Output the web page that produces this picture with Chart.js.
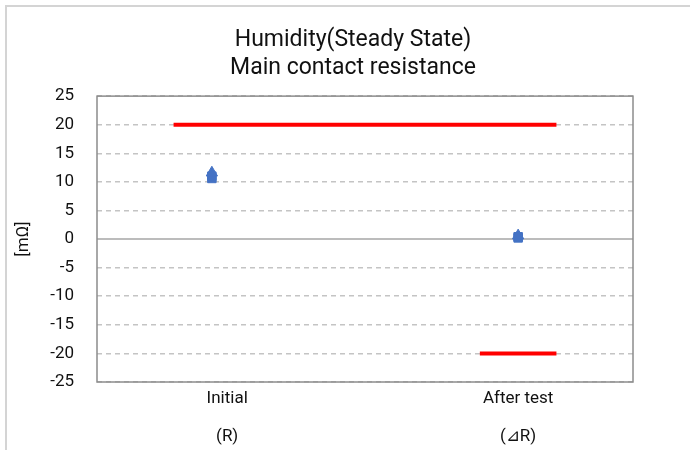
<!DOCTYPE html>
<html>
<head>
<meta charset="utf-8">
<script src="https://cdn.jsdelivr.net/npm/chart.js@4"></script>
<style>
  html, body { margin: 0; padding: 0; background: #fff; }
  #wrap { width: 690px; height: 450px; }
</style>
</head>
<body>
<div id="wrap"><canvas id="c" width="690" height="450"></canvas></div>
<script>
// ── Data ──────────────────────────────────────────────────────────────────────
const categories   = ["Initial", "After test"];
const subLabels    = ["(R)", "(⊿R)"];
const catPos       = [1, 2];
const labelPos     = [1.05, 2.0];

const maxValues    = [11.6, 0.6];
const aveValues    = [11.0, 0.4];
const minValues    = [10.6, 0.2];

const upperLimitX  = [0.875, 2.125];
const upperLimitY  = [20, 20];
const lowerLimitX  = [1.875, 2.125];
const lowerLimitY  = [-20, -20];

const yTicks       = [-25, -20, -15, -10, -5, 0, 5, 10, 15, 20, 25];

const FONT = "Roboto, 'Liberation Sans', Arial, sans-serif";
const BLUE = "#4472C4";

const pts = (xs, ys) => xs.map((x, i) => ({ x, y: ys[i] }));

// ── Frame plugin: outer border, plot box, zero line ─────────────────────────
const framePlugin = {
    id: "frame",
    beforeDraw(chart) {
        const c = chart.ctx;
        c.save();
        c.strokeStyle = "#d4d4d4";
        c.lineWidth = 2;
        c.strokeRect(6, 6, 720, 500);
        c.restore();
    },
    beforeDatasetsDraw(chart) {
        const c = chart.ctx, a = chart.chartArea;
        const y0 = chart.scales.y.getPixelForValue(0);
        c.save();
        c.strokeStyle = "#bcbcbc";
        c.lineWidth = 2;
        c.beginPath();
        c.moveTo(a.left, y0);
        c.lineTo(a.right, y0);
        c.stroke();
        c.strokeStyle = "#8c8c8c";
        c.lineWidth = 1.5;
        c.strokeRect(a.left, a.top, a.right - a.left, a.bottom - a.top);
        c.restore();
    }
};

new Chart(document.getElementById("c"), {
    type: "scatter",
    data: {
        datasets: [
            { label: "Upper", data: pts(upperLimitX, upperLimitY), showLine: true,
              borderColor: "#FF0000", borderWidth: 4, pointRadius: 0 },
            { label: "Lower", data: pts(lowerLimitX, lowerLimitY), showLine: true,
              borderColor: "#FF0000", borderWidth: 4, pointRadius: 0 },
            { label: "Max", data: pts(catPos, maxValues), pointStyle: "triangle",
              pointRadius: 6.5, backgroundColor: BLUE, borderColor: BLUE },
            { label: "Min", data: pts(catPos, minValues), pointStyle: "rect",
              pointRadius: 6, backgroundColor: BLUE, borderColor: BLUE },
            { label: "Ave", data: pts(catPos, aveValues), pointStyle: "rect",
              pointRadius: 6, backgroundColor: BLUE, borderColor: BLUE },
        ],
    },
    options: {
        responsive: false,
        animation: false,
        layout: { padding: { left: 0, right: -16, top: 0, bottom: 0 } },
        plugins: {
            legend: { display: false },
            tooltip: { enabled: false },
            title: {
                display: true,
                text: ["Humidity(Steady State)", "Main contact resistance"],
                color: "#111",
                font: { family: FONT, size: 23, weight: "normal", lineHeight: 1.22 },
                padding: { top: 26, bottom: 14 },
            },
        },
        scales: {
            x: {
                type: "linear",
                min: 0.625,
                max: 2.375,
                afterBuildTicks: s => { s.ticks = labelPos.map(v => ({ value: v })); },
                afterFit: s => { s.height = 68; },
                ticks: {
                    color: "#111",
                    font: { family: FONT, size: 17, lineHeight: 1.12 },
                    padding: 7,
                    maxRotation: 0,
                    autoSkip: false,
                    callback: (v, i) => [categories[i], "", subLabels[i]],
                },
                grid: { display: false, drawTicks: false },
                border: { display: false },
            },
            y: {
                min: -25,
                max: 25,
                afterBuildTicks: s => { s.ticks = yTicks.map(v => ({ value: v })); },
                afterFit: s => { s.width = 97; },
                ticks: {
                    color: "#111",
                    font: { family: FONT, size: 17 },
                    padding: 23,
                },
                grid: {
                    color: ctx => ctx.tick && ctx.tick.value === 0 ? "rgba(0,0,0,0)" : "#c4c4c4",
                    lineWidth: 1.5,
                    drawTicks: false,
                },
                border: { display: false, dash: [5, 4] },
                title: {
                    display: true,
                    text: "[mΩ]",
                    color: "#111",
                    font: { family: FONT, size: 17 },
                    padding: { top: 14, bottom: 0 },
                },
            },
            y2: {
                position: "right",
                min: -25,
                max: 25,
                afterFit: s => { s.width = 73; },
                ticks: { display: false },
                grid: { display: false, drawTicks: false },
                border: { display: false },
            },
        },
    },
    plugins: [framePlugin],
});
</script>
</body>
</html>
